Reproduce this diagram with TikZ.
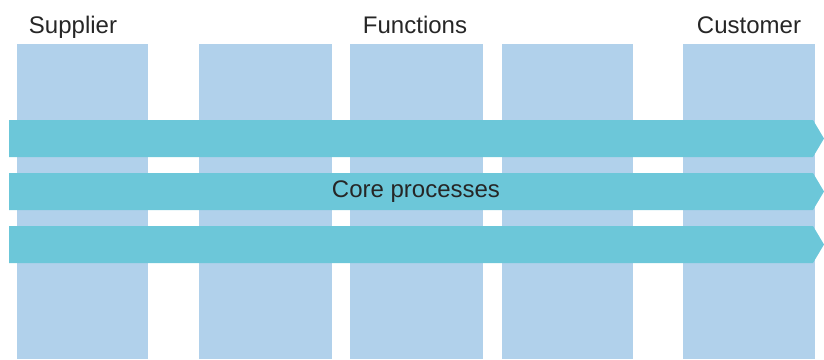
\documentclass[tikz,border=0pt]{standalone}
\usepackage{fontspec}
\setmainfont{Liberation Sans}
\definecolor{colfill}{HTML}{B1D1EB}
\definecolor{procfill}{HTML}{6CC7D9}
\begin{document}
\begin{tikzpicture}[x=1pt,y=-1pt,
  column/.style={fill=colfill,draw=none},
  process/.style={fill=procfill,draw=none},
  heading/.style={font=\fontsize{24}{28}\selectfont,text=black!85,inner sep=0pt,anchor=base}]
\useasboundingbox (0,0) rectangle (824,359);
% functional columns
\foreach \l/\r [count=\i] in {17/148,199/332,350/483,502/633,683/815}
  \path[column] (\l,44) rectangle (\r,359) coordinate (col\i);
% core process arrows
\foreach \t/\b [count=\i] in {120/157,173/210,226/263}{
  \path[process] (9,\t) -- (813,\t) -- (824,{(\t+\b)/2}) -- (813,\b) -- (9,\b) -- cycle;
  \coordinate (proc\i) at (416,{(\t+\b)/2});
}
% labels
\node[heading] (supplier) at (73,33) {Supplier};
\node[heading] (functions) at (415,33) {Functions};
\node[heading] (customer) at (749,33) {Customer};
\node[heading,anchor=center] (core) at (proc2) {Core processes};
\end{tikzpicture}
\end{document}
